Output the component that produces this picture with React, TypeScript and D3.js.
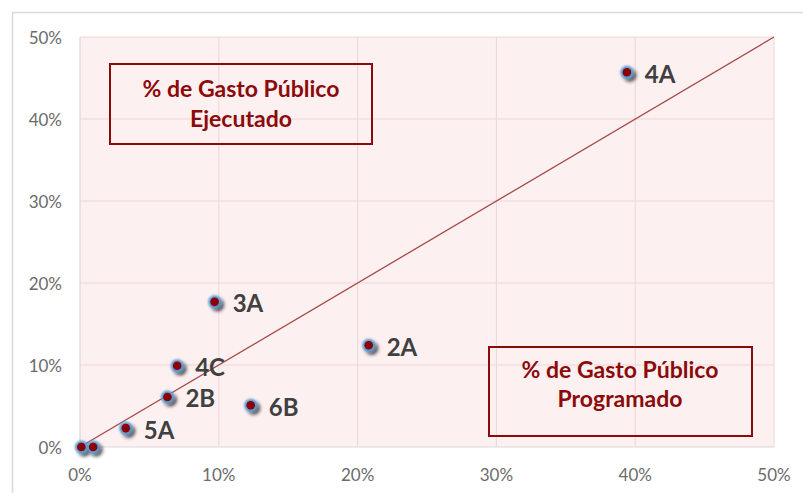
import React from "react"
import * as d3 from "d3"

// % programado (x) vs % ejecutado (y)
const names = ["4A", "3A", "2A", "4C", "2B", "6B", "5A", "", ""]
const programado = [0.394, 0.097, 0.208, 0.07, 0.063, 0.123, 0.033, 0.001, 0.0095]
const ejecutado = [0.457, 0.177, 0.124, 0.099, 0.061, 0.051, 0.023, 0.0, 0.0]
const ticks = [0, 0.1, 0.2, 0.3, 0.4, 0.5]

const W = 803
const H = 493
const margin = { left: 80, top: 37, right: 29, bottom: 46 }

const App = () => {
	const x = d3
		.scaleLinear()
		.domain([0, 0.5])
		.range([margin.left, W - margin.right])
	const y = d3
		.scaleLinear()
		.domain([0, 0.5])
		.range([H - margin.bottom, margin.top])
	const fmt = d3.format(".0%")

	const diag = d3
		.line<number>()
		.x((d) => x(d))
		.y((d) => y(d))

	const labelFont = "Lato, 'Open Sans', sans-serif"
	const dark = "#8b0a0a"

	return (
		<svg width={W} height={H} style={{ position: "absolute", left: 0, top: 0 }}>
			<defs>
				<filter id="mk" x="-100%" y="-100%" width="300%" height="300%">
					<feGaussianBlur in="SourceAlpha" stdDeviation="1.8" result="b" />
					<feOffset in="b" dx="3" dy="3" result="o" />
					<feComponentTransfer in="o" result="s">
						<feFuncA type="linear" slope="0.7" />
					</feComponentTransfer>
					<feMerge>
						<feMergeNode in="s" />
						<feMergeNode in="SourceGraphic" />
					</feMerge>
				</filter>
				<filter id="glow" x="-100%" y="-100%" width="300%" height="300%">
					<feGaussianBlur stdDeviation="0.8" />
				</filter>
			</defs>
			<rect x={0} y={0} width={W} height={H} fill="#fff" />
			<rect x={12.5} y={12.5} width={W + 10} height={H + 10} fill="none" stroke="#d9d9d9" strokeWidth={1.5} />

			{/* plot area */}
			<rect
				x={x(0)}
				y={y(0.5)}
				width={x(0.5) - x(0)}
				height={y(0) - y(0.5)}
				fill="#fdf0f0"
			/>
			{ticks.slice(1).map((t) => (
				<g key={"g" + t}>
					<line x1={x(t)} x2={x(t)} y1={y(0)} y2={y(0.5)} stroke="#f1d6d6" strokeWidth={1} />
					<line x1={x(0)} x2={x(0.5)} y1={y(t)} y2={y(t)} stroke="#f1d6d6" strokeWidth={1} />
				</g>
			))}
			<line x1={x(0)} x2={x(0.5)} y1={y(0)} y2={y(0)} stroke="#d9d9d9" strokeWidth={1.2} />
			<line x1={x(0)} x2={x(0)} y1={y(0)} y2={y(0.5)} stroke="#d9d9d9" strokeWidth={1.2} />

			{ticks.map((t) => (
				<text
					key={"y" + t}
					x={62}
					y={y(t)}
					textAnchor="end"
					dominantBaseline="central"
					fontFamily={labelFont}
					fontSize={17}
					fill="#6b6b6b"
				>
					{fmt(t)}
				</text>
			))}
			{ticks.map((t) => (
				<text
					key={"x" + t}
					x={x(t)}
					y={474}
					textAnchor="middle"
					dominantBaseline="central"
					fontFamily={labelFont}
					fontSize={17}
					fill="#6b6b6b"
				>
					{fmt(t)}
				</text>
			))}

			{/* 45 degree reference line */}
			<path d={diag([0, 0.5]) || ""} fill="none" stroke="#a54a4a" strokeWidth={1.3} />

			{/* annotation boxes */}
			<rect x={110} y={64} width={262} height={80} fill="none" stroke={dark} strokeWidth={2} />
			<text x={241} y={97} textAnchor="middle" fontFamily={labelFont} fontWeight={700} fontSize={23} fill={dark}>
				% de Gasto Público
			</text>
			<text x={241} y={127} textAnchor="middle" fontFamily={labelFont} fontWeight={700} fontSize={23} fill={dark}>
				Ejecutado
			</text>
			<rect x={489} y={347} width={263} height={89} fill="none" stroke={dark} strokeWidth={2} />
			<text x={620} y={378} textAnchor="middle" fontFamily={labelFont} fontWeight={700} fontSize={23} fill={dark}>
				% de Gasto Público
			</text>
			<text x={620} y={407} textAnchor="middle" fontFamily={labelFont} fontWeight={700} fontSize={23} fill={dark}>
				Programado
			</text>

			{/* points */}
			{programado.map((p, i) => (
				<g key={"p" + i} filter="url(#mk)">
					<circle cx={x(p)} cy={y(ejecutado[i])} r={6.5} fill="#5b9bd5" filter="url(#glow)" />
					<circle cx={x(p)} cy={y(ejecutado[i])} r={4.3} fill="#8b0000" />
				</g>
			))}
			{names.map((n, i) =>
				n ? (
					<text
						key={"l" + i}
						x={x(programado[i]) + 18}
						y={y(ejecutado[i]) + 1}
						dominantBaseline="central"
						fontFamily={labelFont}
						fontWeight={700}
						fontSize={24}
						fill="#404040"
					>
						{n}
					</text>
				) : null
			)}
		</svg>
	)
}

export default App
